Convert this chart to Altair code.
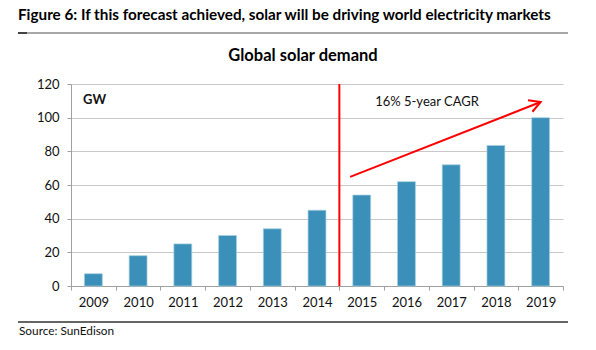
import altair as alt
import pandas as pd

years = [2009, 2010, 2011, 2012, 2013, 2014, 2015, 2016, 2017, 2018, 2019]
demand_gw = [7.3, 18, 25, 30, 34, 45, 54, 62, 72, 83.5, 100]

y_ticks = [0, 20, 40, 60, 80, 100, 120]
x_ticks = [2008.5, 2009.5, 2010.5, 2011.5, 2012.5, 2013.5, 2014.5,
           2015.5, 2016.5, 2017.5, 2018.5, 2019.5]

divider_year = [2014.5]
arrow_x = [2014.74, 2019.0]
arrow_y = [64.8, 109.3]

fig_title = "Figure 6: If this forecast achieved, solar will be driving world electricity markets"
chart_title = "Global solar demand"
unit_label = "GW"
cagr_label = "16% 5-year CAGR"
source_label = "Source: SunEdison"

FONT = "Lato"
BAR = "#3a90b8"
RED = "#ff0000"

df = pd.DataFrame({"year": years, "gw": demand_gw})

xscale = alt.Scale(domain=[2008.5, 2019.5], nice=False, zero=False)
yscale = alt.Scale(domain=[0, 120], nice=False)

xaxis = alt.Axis(values=x_ticks, title=None, grid=False,
                 domainColor="#a0a0a0", tickColor="#a0a0a0", tickSize=4,
                 labelExpr="datum.value > 2019 ? '' : toString(datum.value + 0.5)",
                 labelOffset=22.4, labelPadding=6, labelOverlap=False,
                 labelFlush=False, labelBound=False,
                 labelFont=FONT, labelFontSize=13, labelColor="#111")
yaxis = alt.Axis(values=y_ticks, title=None, grid=True, gridColor="#c8c8c8",
                 domainColor="#a0a0a0", tickColor="#a0a0a0", tickSize=4,
                 labelOverlap=False, labelFlush=False, labelBound=False,
                 labelPadding=8, labelFont=FONT, labelFontSize=13,
                 labelColor="#111")


def X(field):
    return alt.X(field, scale=xscale, axis=xaxis)


def Y(field):
    return alt.Y(field, scale=yscale, axis=yaxis)


bars = alt.Chart(df).transform_calculate(
    x0="datum.year - 0.2", x1="datum.year + 0.2", base="0"
).mark_bar(color=BAR, stroke="#a8d0e2", strokeWidth=0.7).encode(
    x=X("x0:Q"), x2="x1:Q", y=Y("gw:Q"), y2="base:Q",
)

div_df = pd.DataFrame({"x": divider_year, "y0": [0], "y1": [120]})
divider = alt.Chart(div_df).mark_rule(color=RED, strokeWidth=2).encode(
    x=X("x:Q"), y=Y("y0:Q"), y2="y1:Q"
)

arr_df = pd.DataFrame({"x0": [arrow_x[0]], "x1": [arrow_x[1]],
                       "y0": [arrow_y[0]], "y1": [arrow_y[1]]})
shaft = alt.Chart(arr_df).mark_rule(color=RED, strokeWidth=2).encode(
    x=X("x0:Q"), x2="x1:Q", y=Y("y0:Q"), y2="y1:Q"
)
head = alt.Chart(arr_df).mark_point(
    shape="M-1,-0.55L0,0L-1,0.55", filled=False, color=RED, strokeWidth=2,
    size=500, angle=339, opacity=1
).encode(x=X("x1:Q"), y=Y("y1:Q"))

lab_df = pd.DataFrame({"x": [2008.77, 2016.46], "y": [110.3, 109.1],
                       "t": [unit_label, cagr_label]})
gw_text = alt.Chart(lab_df.iloc[[0]]).mark_text(
    font=FONT, fontSize=13, fontWeight="bold", align="left", baseline="middle", color="#111"
).encode(x=X("x:Q"), y=Y("y:Q"), text="t:N")
cagr_text = alt.Chart(lab_df.iloc[[1]]).mark_text(
    font=FONT, fontSize=13, align="center", baseline="middle", color="#111"
).encode(x=X("x:Q"), y=Y("y:Q"), text="t:N")

frame_df = pd.DataFrame({"t": [fig_title, chart_title, source_label]})
title1 = alt.Chart(frame_df.iloc[[0]]).mark_text(
    font=FONT, fontSize=15.25, fontWeight="bold", align="left", baseline="middle", color="#000"
).encode(x=alt.value(-53), y=alt.value(-69), text="t:N")
title2 = alt.Chart(frame_df.iloc[[1]]).mark_text(
    font=FONT, fontSize=16.5, fontWeight="bold", align="center", baseline="middle", color="#000"
).encode(x=alt.value(232), y=alt.value(-28), text="t:N")
source = alt.Chart(frame_df.iloc[[2]]).mark_text(
    font=FONT, fontSize=11.8, align="left", baseline="middle", color="#111"
).encode(x=alt.value(-52), y=alt.value(247), text="t:N")

rule_top = alt.Chart(frame_df.iloc[[0]]).mark_rule(color="#8a8a8a", strokeWidth=1.5).encode(
    x=alt.value(-53), x2=alt.value(497), y=alt.value(-51))
rule_top_dark = alt.Chart(frame_df.iloc[[0]]).mark_rule(color="#222", strokeWidth=1.5).encode(
    x=alt.value(-53), x2=alt.value(-44), y=alt.value(-51))
rule_bot = alt.Chart(frame_df.iloc[[0]]).mark_rule(color="#333", strokeWidth=1.5).encode(
    x=alt.value(-53), x2=alt.value(497), y=alt.value(238))

chart = alt.layer(
    bars, divider, shaft, head, gw_text, cagr_text,
    title1, title2, source, rule_top, rule_top_dark, rule_bot
).properties(
    width=492, height=202,
    autosize=alt.AutoSizeParams(type="none"),
    padding={"left": 71, "top": 84, "right": 33, "bottom": 64},
    background="white",
).configure_view(stroke=None)

chart.save("out.html", embed_options={"renderer": "svg", "actions": False})
